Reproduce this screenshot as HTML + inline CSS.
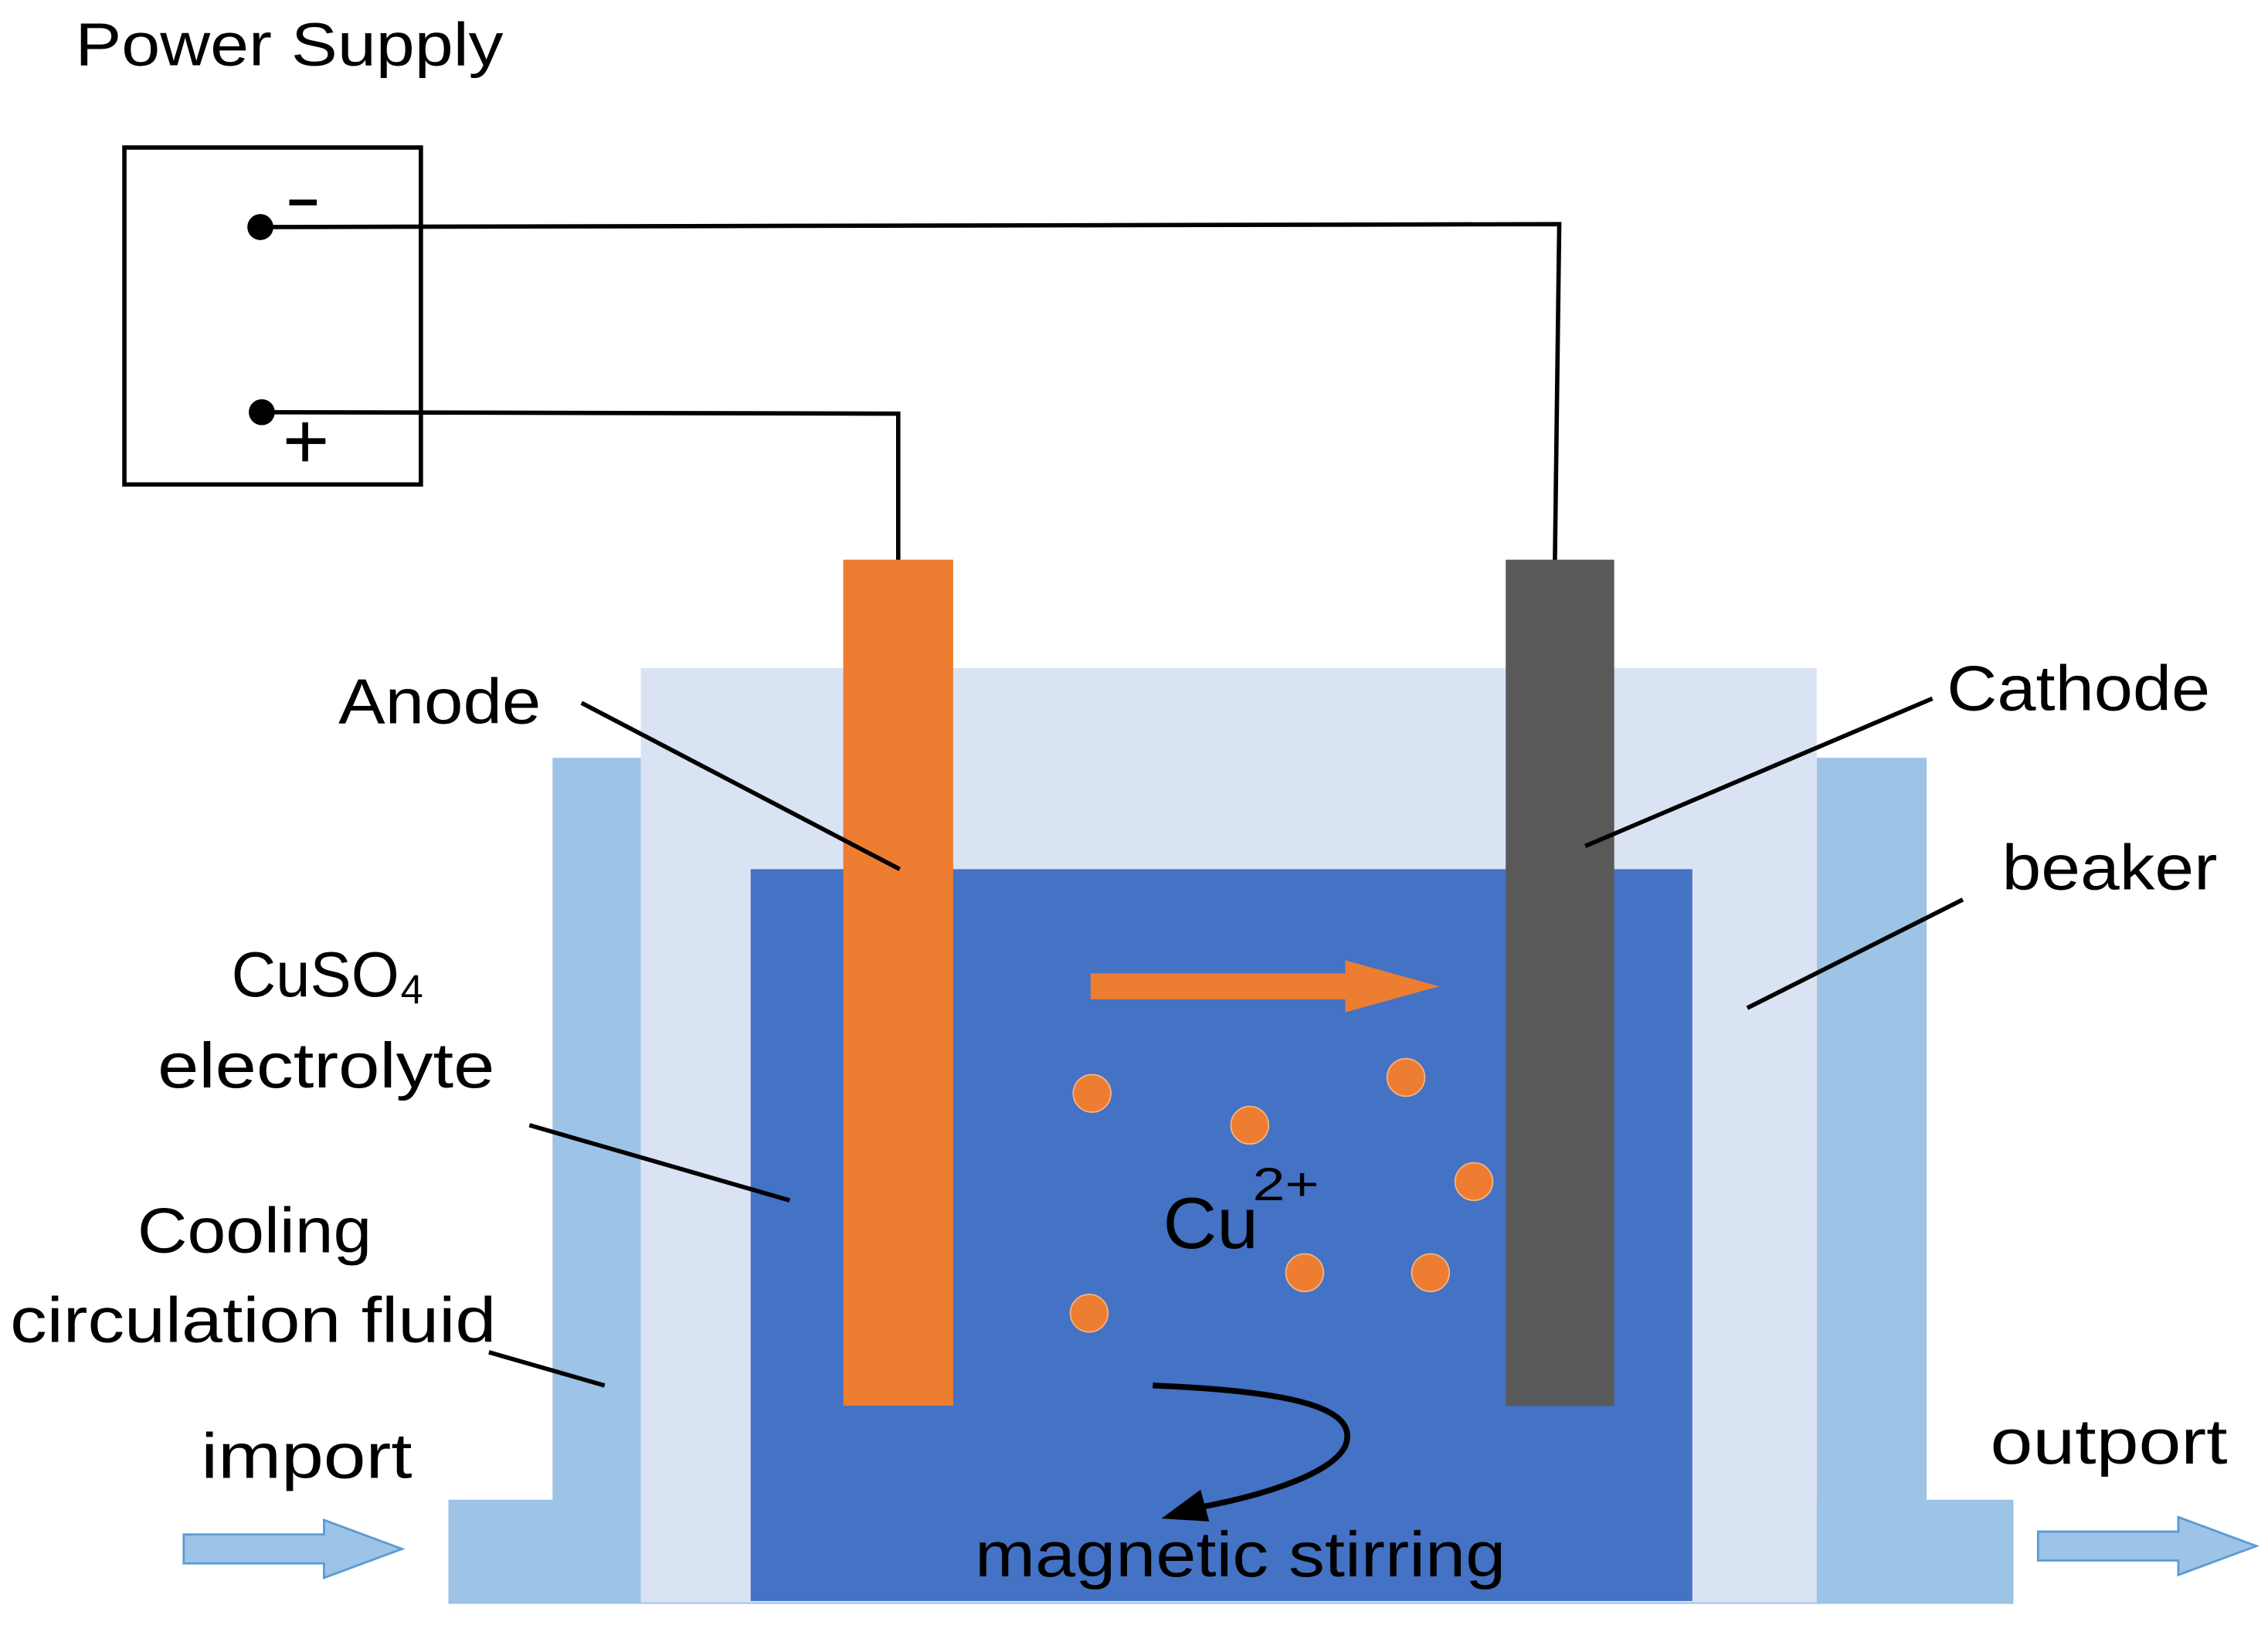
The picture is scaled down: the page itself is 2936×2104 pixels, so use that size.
<!DOCTYPE html>
<html><head><meta charset="utf-8"><style>html,body{margin:0;padding:0;background:#fff}svg{display:block}</style></head>
<body>
<svg width="2936" height="2104" viewBox="0 0 1568 1123.6" preserveAspectRatio="none" xmlns="http://www.w3.org/2000/svg" font-family="'Liberation Sans', sans-serif" fill="#000">
<rect width="1568" height="1124" fill="#fff"/>
<text x="52" y="45" font-size="42" textLength="296" lengthAdjust="spacingAndGlyphs">Power Supply</text>
<rect x="86" y="102" width="205" height="233" fill="none" stroke="#000" stroke-width="3"/>
<circle cx="180" cy="157" r="9"/>
<circle cx="181" cy="285" r="9"/>
<rect x="200" y="138" width="19" height="4"/>
<rect x="198" y="303" width="27" height="4"/>
<rect x="209" y="292" width="4" height="27"/>
<polyline points="180,157 1078,155 1075,388" fill="none" stroke="#000" stroke-width="3"/>
<polyline points="181,285 621,286 621,388" fill="none" stroke="#000" stroke-width="3"/>
<rect x="382" y="524" width="61" height="584" fill="#9DC3E6"/>
<rect x="1256" y="524" width="76" height="584" fill="#9DC3E6"/>
<rect x="310" y="1037" width="1082" height="72" fill="#9DC3E6"/>
<rect x="443" y="462" width="813" height="646" fill="#DAE3F3"/>
<rect x="519" y="601" width="651" height="506" fill="#4472C4"/>
<rect x="583" y="387" width="76" height="585" fill="#ED7D31"/>
<rect x="1041" y="387" width="75" height="585" fill="#595959"/>
<polygon points="754,673 930,673 930,664 995,682 930,700 930,691 754,691" fill="#ED7D31"/>
<g fill="#ED7D31" stroke="#F4B183" stroke-width="1">
<circle cx="755" cy="756" r="13"/><circle cx="864" cy="778" r="13"/><circle cx="972" cy="745" r="13"/>
<circle cx="1019" cy="817" r="13"/><circle cx="902" cy="880" r="13"/><circle cx="989" cy="880" r="13"/><circle cx="753" cy="908" r="13"/>
</g>
<text x="804" y="863" font-size="50" textLength="66" lengthAdjust="spacingAndGlyphs">Cu</text>
<text x="866" y="830" font-size="32" textLength="46" lengthAdjust="spacingAndGlyphs">2+</text>
<path d="M797,958 C900,962 940,975 930,1000 C920,1020 870,1035 825,1043" fill="none" stroke="#000" stroke-width="4"/>
<polygon points="803,1050 830,1030 836,1052" fill="#000"/>
<text x="674" y="1090" font-size="44" textLength="367" lengthAdjust="spacingAndGlyphs">magnetic stirring</text>
<g stroke="#000" stroke-width="3">
<line x1="402" y1="486" x2="622" y2="601"/>
<line x1="1336" y1="483" x2="1096" y2="585"/>
<line x1="1357" y1="622" x2="1208" y2="697"/>
<line x1="366" y1="778" x2="546" y2="830"/>
<line x1="338" y1="935" x2="418" y2="958"/>
</g>
<text x="234" y="500" font-size="44" textLength="140" lengthAdjust="spacingAndGlyphs">Anode</text>
<text x="1346" y="491" font-size="44" textLength="182" lengthAdjust="spacingAndGlyphs">Cathode</text>
<text x="1384" y="615" font-size="44" textLength="149" lengthAdjust="spacingAndGlyphs">beaker</text>
<text x="160" y="689" font-size="44" textLength="116" lengthAdjust="spacingAndGlyphs">CuSO</text>
<text x="277" y="694" font-size="28">4</text>
<text x="109" y="752" font-size="44" textLength="233" lengthAdjust="spacingAndGlyphs">electrolyte</text>
<text x="95" y="866" font-size="44" textLength="162" lengthAdjust="spacingAndGlyphs">Cooling</text>
<text x="7" y="928" font-size="44" textLength="336" lengthAdjust="spacingAndGlyphs">circulation fluid</text>
<text x="139" y="1022" font-size="44" textLength="146" lengthAdjust="spacingAndGlyphs">import</text>
<text x="1376" y="1012" font-size="44" textLength="164" lengthAdjust="spacingAndGlyphs">outport</text>
<polygon points="127,1061 224,1061 224,1051 278,1071 224,1091 224,1081 127,1081" fill="#9DC3E6" stroke="#5B9BD5" stroke-width="1.5"/>
<polygon points="1409,1059 1506,1059 1506,1049 1560,1069 1506,1089 1506,1079 1409,1079" fill="#9DC3E6" stroke="#5B9BD5" stroke-width="1.5"/>
</svg>
</body></html>
